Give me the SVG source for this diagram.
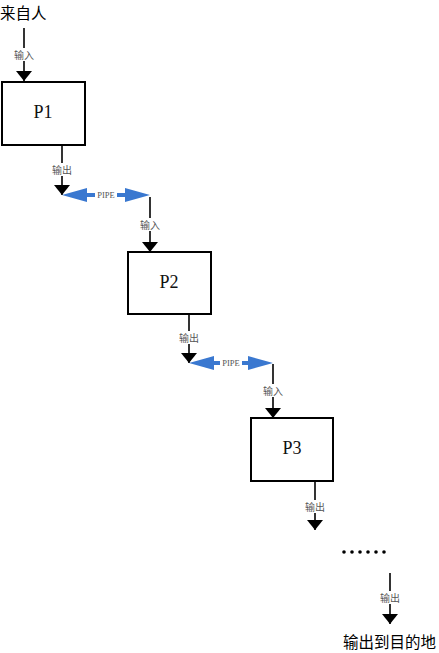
<svg xmlns="http://www.w3.org/2000/svg" width="439" height="653" viewBox="0 0 439 653">
<defs>
<style>
.box{fill:#fff;stroke:#000;stroke-width:2}
.pl{font-family:"Liberation Serif",serif;font-size:18px;fill:#111;text-anchor:middle}
.big{font-family:"Noto Sans CJK SC","Noto Sans CJK JP",sans-serif;font-size:15.5px;fill:#000}
.ln{stroke:#000;stroke-width:1.6;fill:none}
.lab{font-family:"Noto Sans CJK SC",sans-serif;font-size:10px;fill:#555;text-anchor:middle}
.lbg{fill:#fff}
.pipe{fill:#3a78d0}
.pt{font-family:"Liberation Serif",serif;font-size:8.5px;fill:#555;text-anchor:middle}
</style>
<marker id="ah" viewBox="0 0 10 16" refX="10" refY="8" markerWidth="10" markerHeight="16" markerUnits="userSpaceOnUse" orient="auto">
<path d="M0,0 L10,8 L0,16 Z" fill="#000"/>
</marker>
</defs>
<rect width="439" height="653" fill="#fff"/>
<g id="connectors">
<line class="ln" x1="24" y1="28" x2="24" y2="81" marker-end="url(#ah)"/>
<rect class="lbg" x="12" y="48" width="24" height="13"/>
<text class="lab" x="24" y="59">输入</text>

<line class="ln" x1="62" y1="145" x2="62" y2="195" marker-end="url(#ah)"/>
<rect class="lbg" x="50" y="163" width="24" height="13"/>
<text class="lab" x="62" y="174">输出</text>

<g id="pipe1">
<polygon class="pipe" points="62,195 87,188 87,193 125,193 125,188 150,195 125,202 125,197 87,197 87,202"/>
<rect class="lbg" x="95" y="191" width="22" height="8"/>
<text class="pt" x="106" y="198">PIPE</text>
</g>

<line class="ln" x1="150" y1="197" x2="150" y2="252" marker-end="url(#ah)"/>
<rect class="lbg" x="138" y="218" width="24" height="13"/>
<text class="lab" x="150" y="229">输入</text>

<line class="ln" x1="189" y1="315" x2="189" y2="363" marker-end="url(#ah)"/>
<rect class="lbg" x="177" y="331" width="24" height="13"/>
<text class="lab" x="189" y="342">输出</text>

<g id="pipe2">
<polygon class="pipe" points="189,363 214,356 214,361 248,361 248,356 273,363 248,370 248,365 214,365 214,370"/>
<rect class="lbg" x="220" y="359" width="22" height="8"/>
<text class="pt" x="231" y="366">PIPE</text>
</g>

<line class="ln" x1="273" y1="364" x2="273" y2="418" marker-end="url(#ah)"/>
<rect class="lbg" x="261" y="384" width="24" height="13"/>
<text class="lab" x="273" y="395">输入</text>

<line class="ln" x1="315" y1="481" x2="315" y2="530" marker-end="url(#ah)"/>
<rect class="lbg" x="303" y="500" width="24" height="13"/>
<text class="lab" x="315" y="511">输出</text>

<line class="ln" x1="390" y1="573" x2="390" y2="624" marker-end="url(#ah)"/>
<rect class="lbg" x="378" y="591" width="24" height="13"/>
<text class="lab" x="390" y="602">输出</text>
</g>

<g id="src"><text class="big" x="0" y="19">来自人</text></g>
<g id="p1"><rect class="box" x="2" y="82" width="83" height="63"/><text class="pl" x="43" y="118">P1</text></g>
<g id="p2"><rect class="box" x="128" y="252" width="83" height="62"/><text class="pl" x="169" y="288">P2</text></g>
<g id="p3"><rect class="box" x="251" y="418" width="82" height="63"/><text class="pl" x="292" y="454">P3</text></g>
<g id="dots" fill="#000">
<circle cx="344" cy="552" r="1.8"/><circle cx="352" cy="552" r="1.8"/><circle cx="360" cy="552" r="1.8"/><circle cx="368" cy="552" r="1.8"/><circle cx="376" cy="552" r="1.8"/><circle cx="384" cy="552" r="1.8"/>
</g>
<g id="dst"><text class="big" x="343" y="648">输出到目的地</text></g>
</svg>
